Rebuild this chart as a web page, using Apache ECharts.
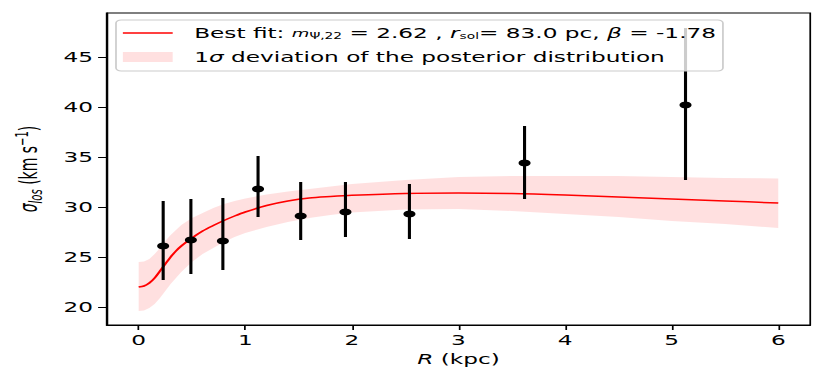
<!DOCTYPE html>
<html>
<head>
<meta charset="utf-8">
<script src="https://cdn.jsdelivr.net/npm/echarts@6/dist/echarts.min.js"></script>
<style>
  html, body { margin: 0; padding: 0; background: #fff; overflow: hidden; }
  /* the reference figure is stretched sideways, so draw narrow and stretch it */
  #main { width: 483px; height: 382px; transform: scaleX(1.71843); transform-origin: 0 0; }
</style>
</head>
<body>
<div id="main"></div>
<script>
// tick labels
var xTicks = [0, 1, 2, 3, 4, 5, 6];
var yTicks = [20, 25, 30, 35, 40, 45];

// observed points with error bars
var obsR = [0.23, 0.49, 0.79, 1.12, 1.52, 1.94, 2.54, 3.62, 5.13];
var obsSigma = [26.1, 26.7, 26.6, 31.8, 29.1, 29.5, 29.3, 34.4, 40.2];
var obsLow = [22.7, 23.3, 23.7, 29.0, 26.7, 27.0, 26.8, 30.8, 32.7];
var obsHigh = [30.6, 30.8, 30.9, 35.1, 32.5, 32.5, 32.3, 38.1, 47.9];

// best fit curve and 1 sigma band
var fitR = [0, 0.05, 0.1, 0.15, 0.2, 0.25, 0.3, 0.35, 0.4, 0.5, 0.6, 0.7, 0.8, 0.9, 1.0,
            1.2, 1.4, 1.6, 1.8, 2.0, 2.5, 3.0, 3.5, 4.0, 4.5, 5.0, 5.5, 6.0];
var fitSigma = [22.0, 22.1, 22.4, 22.9, 23.6, 24.3, 25.0, 25.6, 26.1, 26.9, 27.6, 28.15, 28.65, 29.1, 29.5,
                30.15, 30.6, 30.9, 31.05, 31.17, 31.35, 31.4, 31.35, 31.2, 31.0, 30.8, 30.6, 30.4];
var bandHigh = [24.5, 24.55, 24.8, 25.3, 25.9, 26.6, 27.2, 27.7, 28.2, 28.9, 29.4, 29.9, 30.3, 30.6, 30.85,
                31.25, 31.55, 31.8, 32.05, 32.3, 32.7, 33.0, 33.1, 33.1, 33.1, 33.0, 32.9, 32.85];
var bandLow = [19.6, 19.65, 19.9, 20.3, 20.9, 21.6, 22.3, 22.9, 23.5, 24.5, 25.3, 25.9, 26.5, 27.0, 27.4,
               28.0, 28.5, 28.9, 29.2, 29.45, 29.75, 29.8, 29.6, 29.3, 29.0, 28.6, 28.3, 27.9];

var fitName = 'Best fit';
var bandName = '1σ deviation';
var font = 'DejaVu Sans';
var bandColor = 'rgba(255,0,0,0.12)';

var chart = echarts.init(document.getElementById('main'), null, { renderer: 'svg' });

var option = {
    animation: false,
    grid: {
        left: 61,
        right: 11.5,
        top: 13,
        bottom: 57,
        show: true,
        borderColor: '#000',
        borderWidth: 1
    },
    legend: {
        orient: 'vertical',
        left: 67.5,
        top: 20,
        padding: [6, 4, 7, 4],
        itemWidth: 29,
        itemHeight: 10,
        itemGap: 9,
        backgroundColor: 'rgba(255,255,255,0.8)',
        borderColor: '#cccccc',
        borderWidth: 1,
        borderRadius: 3,
        selectedMode: false,
        data: [
            { name: fitName, icon: 'path://M0,0H29V1.5H0Z', itemStyle: { color: '#ff0000' } },
            { name: bandName, icon: 'rect', itemStyle: { color: bandColor } }
        ],
        formatter: function (name) {
            if (name === fitName) {
                return '{t|Best fit: }{m|m}{sub|Ψ,22}{t| = 2.62 , }{i|r}{sub|sol}{t|= 83.0 pc, }{i|β}{t| = -1.78}';
            }
            return '{t|1}{i|σ}{t| deviation of the posterior distribution}';
        },
        textStyle: {
            padding: [0, 0, 0, 7.5],
            rich: {
                t: { fontFamily: font, fontSize: 13.5, color: '#000', lineHeight: 16 },
                i: { fontFamily: font, fontSize: 13.5, fontStyle: 'italic', color: '#000', lineHeight: 16 },
                m: { fontFamily: font, fontSize: 10.5, fontStyle: 'italic', color: '#000', lineHeight: 16 },
                sub: { fontFamily: font, fontSize: 8, color: '#000', lineHeight: 14, verticalAlign: 'bottom' }
            }
        }
    },
    xAxis: {
        type: 'value',
        min: -0.3,
        max: 6.3,
        name: '{i|R}{t| (kpc)}',
        nameLocation: 'middle',
        nameGap: 27,
        nameTextStyle: {
            rich: {
                t: { fontFamily: font, fontSize: 13.5, color: '#000' },
                i: { fontFamily: font, fontSize: 13.5, fontStyle: 'italic', color: '#000' }
            }
        },
        axisLine: { show: true, onZero: false, lineStyle: { color: '#000', width: 1 } },
        axisTick: { show: true, length: 5, customValues: xTicks, lineStyle: { color: '#000' } },
        axisLabel: { customValues: xTicks, margin: 8, fontFamily: font, fontSize: 13.5, color: '#000' },
        splitLine: { show: false }
    },
    yAxis: {
        type: 'value',
        min: 18.2,
        max: 49.4,
        name: '{g|σ}{s|los}{t| (km s}{p|−1}{t|)}',
        nameLocation: 'middle',
        nameRotate: 90,
        nameGap: 31,
        nameTextStyle: {
            rich: {
                g: { fontFamily: font, fontSize: 14, fontStyle: 'italic', color: '#000', lineHeight: 18 },
                s: { fontFamily: font, fontSize: 10, fontStyle: 'italic', color: '#000', lineHeight: 18, verticalAlign: 'bottom', padding: [5, 0, 0, 0] },
                t: { fontFamily: font, fontSize: 14, color: '#000', lineHeight: 18 },
                p: { fontFamily: font, fontSize: 10, color: '#000', lineHeight: 18, verticalAlign: 'top', padding: [0, 0, 5, 0] }
            }
        },
        axisLine: { show: true, onZero: false, lineStyle: { color: '#000', width: 1 } },
        axisTick: { show: true, length: 5, customValues: yTicks, lineStyle: { color: '#000' } },
        axisLabel: { customValues: yTicks, margin: 8, fontFamily: font, fontSize: 13.5, color: '#000' },
        splitLine: { show: false }
    },
    series: [
        {
            name: bandName,
            type: 'custom',
            z: 1,
            itemStyle: { color: bandColor },
            data: [[0, 22]],
            encode: { x: 0, y: 1 },
            renderItem: function (params, api) {
                var pts = [];
                for (var i = 0; i < fitR.length; i++) {
                    pts.push(api.coord([fitR[i], bandHigh[i]]));
                }
                for (var j = fitR.length - 1; j >= 0; j--) {
                    pts.push(api.coord([fitR[j], bandLow[j]]));
                }
                return {
                    type: 'polygon',
                    shape: { points: pts },
                    style: { fill: bandColor, stroke: null }
                };
            }
        },
        {
            name: fitName,
            type: 'line',
            z: 2,
            smooth: 0.3,
            symbol: 'none',
            color: '#ff0000',
            lineStyle: { color: '#ff0000', width: 1.5 },
            data: fitR.map(function (r, i) { return [r, fitSigma[i]]; })
        },
        {
            name: 'errors',
            type: 'custom',
            z: 3,
            data: obsR.map(function (r, i) { return [r, obsLow[i], obsHigh[i]]; }),
            encode: { x: 0, y: [1, 2] },
            renderItem: function (params, api) {
                var x = api.value(0);
                var p1 = api.coord([x, api.value(1)]);
                var p2 = api.coord([x, api.value(2)]);
                return {
                    type: 'line',
                    shape: { x1: p1[0], y1: p1[1], x2: p2[0], y2: p2[1] },
                    style: { stroke: '#000', lineWidth: 1.8 }
                };
            }
        },
        {
            name: 'points',
            type: 'scatter',
            z: 4,
            symbol: 'circle',
            symbolSize: 7,
            itemStyle: { color: '#000', opacity: 1 },
            data: obsR.map(function (r, i) { return [r, obsSigma[i]]; })
        }
    ]
};

chart.setOption(option);
</script>
</body>
</html>
